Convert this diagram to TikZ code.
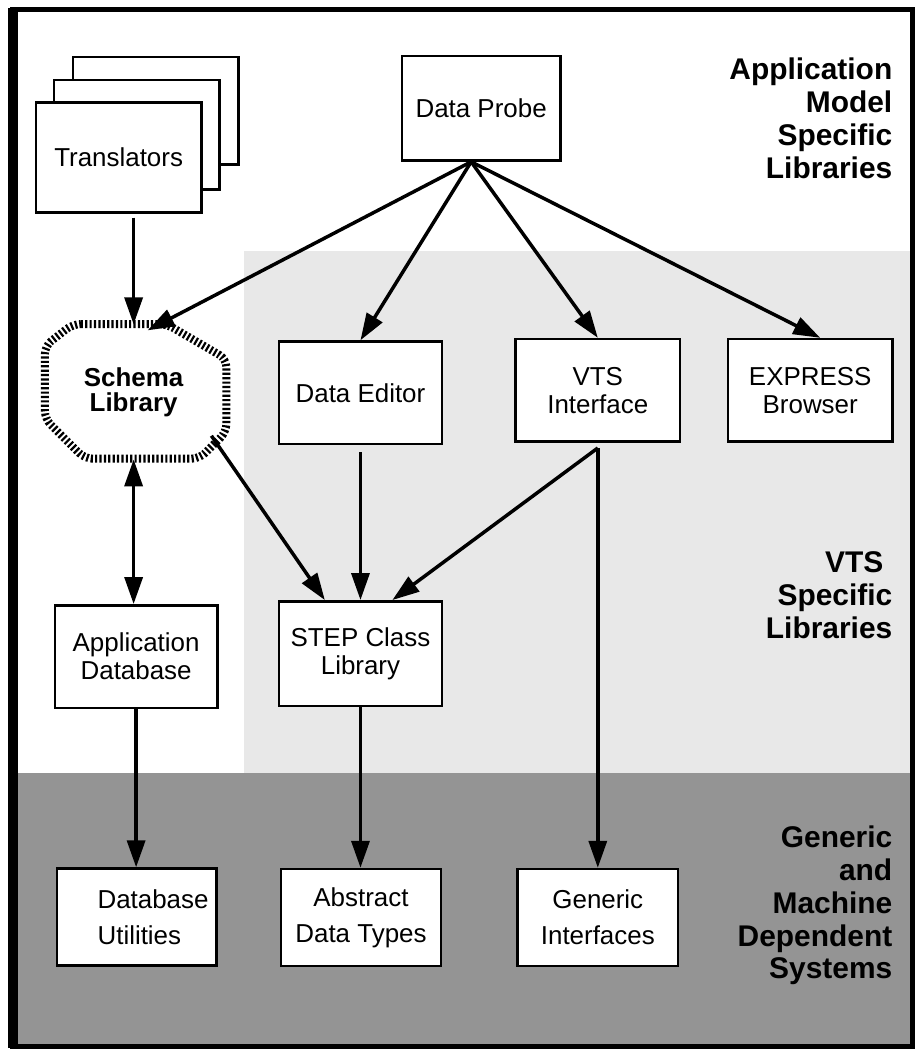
\documentclass[tikz,border=0pt]{standalone}
\usepackage{fontspec}
\setmainfont{Liberation Sans}
\usetikzlibrary{arrows.meta}
\usetikzlibrary{calc}

\begin{document}
\begin{tikzpicture}[x=1pt, y=-1pt,
	>={Triangle[length=27pt, width=18pt]},
	box/.style={draw, line width=2.5pt, fill=white, minimum width=163pt, minimum height=103pt, inner sep=0pt, align=center, font=\fontsize{26}{28}\selectfont},
	lowbox/.style={box, minimum width=160pt, minimum height=97pt, font=\fontsize{26}{36}\selectfont},
	layer/.style={inner sep=0pt, anchor=east, align=right, font=\bfseries\fontsize{30}{33}\selectfont},
	flow/.style={line width=3.5pt, ->}]
	% page, shaded layers and frame
	\fill[white] (0,0) rectangle (920,1053);
	\fill[black!9] (245,252) rectangle (913,775);
	\fill[black!42] (15,775) rectangle (913,1048);
	\draw[line width=5pt] (13,10) rectangle (915,1049);
	\draw[line width=10pt] (13,8) -- (13,1051);

	% translators: stack of three sheets
	\node[box, minimum width=166pt, minimum height=108pt] (trans3) at (156,111) {};
	\node[box, minimum width=166pt, minimum height=110pt] (trans2) at (137,135) {};
	\node[box, minimum width=166pt, minimum height=110pt] (trans) at (119,158) {Translators};
	\node[box, minimum width=159pt, minimum height=105pt] (probe) at (482.5,108.5) {Data Probe};

	% schema library: hatched outline
	\draw[fill=white, line width=8pt, dash pattern=on 2.2pt off 2.2pt, rounded corners=8pt]
		(73,325) -- (167,325) -- (227,360) -- (227,433) -- (200,460) -- (85,460) -- (45,420) -- (45,347) -- cycle;
	\node[inner sep=0pt, minimum width=182pt, minimum height=135pt, align=center, font=\bfseries\fontsize{26}{25}\selectfont] (schema) at (134,393) {Schema\\Library};

	\node[box] (editor) at (361.5,394) {Data Editor};
	\node[box, minimum width=165pt] (vts) at (599.5,391.5) {VTS\\Interface};
	\node[box, minimum width=165pt] (express) at (812.5,391.5) {EXPRESS\\Browser};
	\node[box] (appdb) at (136.5,658.5) {Application\\Database};
	\node[box, minimum height=105pt] (step) at (361.5,655.5) {STEP Class\\Library};
	\node[lowbox, align=left] (dbutil) at (137,919.5) {\hspace*{33pt}Database\\\hspace*{33pt}Utilities};
	\node[lowbox] (adt) at (362,920) {Abstract\\Data Types};
	\node[lowbox, minimum width=161pt] (generic) at (599.5,920) {Generic\\Interfaces};

	% layer captions
	\node[layer] (lyrapp) at (895,118.5) {Application\\Model\\Specific\\Libraries};
	\node[layer] (lyrvts) at (895,597) {VTS\hspace*{9pt}\\Specific\\Libraries};
	\node[layer] (lyrsys) at (895,908) {Generic\\and\\Machine\\Dependent\\Systems};

	% data probe fan
	\coordinate (fan) at ([xshift=-10pt]probe.south);
	\draw[flow] (fan) -- ([xshift=14pt, yshift=-6pt]schema.north);
	\draw[flow] (fan) -- (editor.north);
	\draw[flow] (fan) -- (vts.north);
	\draw[flow] (fan) -- ([xshift=10pt]express.north);

	\draw[flow, shorten <=4pt] (schema.north |- trans.south) -- (schema.north);
	\draw[flow] ([shift={(78pt,-44pt)}]schema.center) -- ([xshift=47pt]step.north west);
	\draw[flow, shorten <=7pt] (editor.south) -- (editor.south |- step.north);
	% vts interface drop line
	\coordinate (vtsdrop) at ([yshift=-5pt]vts.south);
	\draw[flow] (vtsdrop) -- ([xshift=32pt]step.north);
	\draw[flow] (vtsdrop) -- (vtsdrop |- generic.north);

	\draw[flow, <->] (schema.south) -- (appdb.north -| schema.south);
	\draw[flow] (appdb.south) -- (appdb.south |- dbutil.north);
	\draw[flow] (step.south) -- (step.south |- adt.north);
\end{tikzpicture}
\end{document}
